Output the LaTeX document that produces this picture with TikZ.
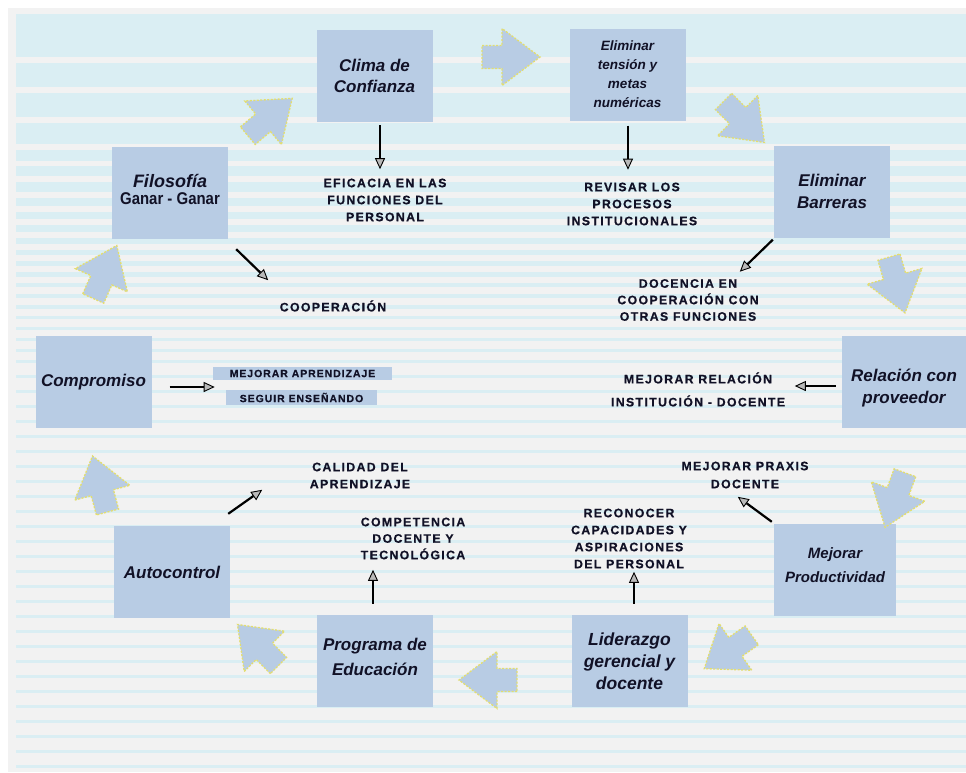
\documentclass[tikz,border=0pt]{standalone}
\usepackage{fontspec}
\usepackage{graphicx}
\setmainfont{Liberation Sans}
\newfontfamily\lblfont[LetterSpace=11,FakeBold=0.6]{Liberation Sans}
\newfontfamily\smlfont[LetterSpace=9,FakeBold=0.5]{Liberation Sans}
\usetikzlibrary{arrows.meta}
\definecolor{boxblue}{HTML}{B8CCE4}
\definecolor{band}{HTML}{DAEEF3}
\definecolor{framegray}{HTML}{F2F2F2}
\definecolor{ink}{HTML}{111126}
\definecolor{dashy}{HTML}{E4DE6E}
\tikzset{
  box/.style={fill=boxblue, minimum width=116pt, minimum height=92pt, inner sep=0pt,
    align=center, text=ink, font=\bfseries\itshape\fontsize{17}{21}\selectfont},
  lbl/.style={align=center, text=ink, inner sep=0pt,
    font=\lblfont\bfseries\fontsize{12.3}{17}\selectfont},
  hilite/.style={fill=boxblue, inner sep=0pt, text=ink,
    font=\smlfont\bfseries\fontsize{10.5}{12}\selectfont},
  conn/.style={line width=2.2pt, black,
    -{Triangle[length=11pt,width=10pt,fill=gray!55,line width=0.9pt]}},
  blockarr/.style={fill=boxblue, draw=dashy, line width=1.3pt, dash pattern=on 2pt off 1.5pt}
}
\newcommand\barrow[3]{%
  \draw[blockarr, shift={(#1,#2)}, rotate=#3]
    (-29,-11.5) -- (-9,-11.5) -- (-9,-28.5) -- (29,0) -- (-9,28.5) -- (-9,11.5) -- (-29,11.5) -- cycle;}
\begin{document}
\begin{tikzpicture}[x=1pt,y=-1pt]
\useasboundingbox (0,0) rectangle (966,772);
% background
\fill[white] (0,0) rectangle (966,772);
\fill[framegray] (8,8) rectangle (966,772);
\foreach \a/\b in {14/57,63/87,93/117,123/144,150/161,166/176,182/192,198/206,212/219,225/232,
  238/244,250/255,261/266,272/277,283/287,294/298,305/309,316/319,327/330,338/341,349/352,360/363}
  \fill[band] (16,\a) rectangle (966,\b);
\foreach \y in {375,390,...,765}
  \fill[band] (16,\y) rectangle (966,\y+2.5);

% boxes
\node[box] (clima) at (374.5,76) {Clima de\\Confianza};
\node[box, font=\bfseries\itshape\fontsize{13.5}{19}\selectfont] (tension) at (627.5,74.5) {Eliminar\\tensión y\\metas\\numéricas};
\node[box, font=\bfseries\itshape\fontsize{17}{22}\selectfont] (barreras) at (832,191.5) {Eliminar\\Barreras};
\node[box, minimum width=124pt, font=\bfseries\itshape\fontsize{17}{22}\selectfont] (relacion) at (904,381.5) {\rule{0pt}{25pt}Relación con\\proveedor};
\node[box, minimum width=122pt, font=\bfseries\itshape\fontsize{15}{24}\selectfont] (product) at (835,570) {Mejorar\\Productividad\\[-14pt]};
\node[box, font=\bfseries\itshape\fontsize{17.5}{22}\selectfont] (liderazgo) at (629.5,661) {Liderazgo\\gerencial y\\docente};
\node[box, font=\bfseries\itshape\fontsize{17}{25}\selectfont] (programa) at (375,661) {Programa de\\Educación\\[-17pt]};
\node[box] (autocontrol) at (172,572) {Autocontrol};
\node[box] (compromiso) at (93.5,382) {Compromiso};
\node[box, font=\bfseries\fontsize{18}{18}\selectfont] (filosofia) at (170,193)
  {\itshape Filosofía\\[-1pt]\scalebox{0.88}[1]{\fontsize{17}{17}\selectfont Ganar - Ganar}\\[-11pt]};

% block arrows
\barrow{270}{117}{40}
\barrow{511}{57}{0}
\barrow{744}{122}{-45}
\barrow{897}{285}{-74}
\barrow{895}{500}{-110}
\barrow{728}{652}{-145}
\barrow{488}{680}{180}
\barrow{258}{645}{135}
\barrow{100}{484}{105}
\barrow{105}{272}{66}

% labels
\node[lbl] (eficacia) at (385,200) {EFICACIA EN LAS\\FUNCIONES DEL\\PERSONAL};
\node[lbl] (revisar) at (632,204) {REVISAR LOS\\PROCESOS\\INSTITUCIONALES};
\node[lbl] (coop) at (333,306) {COOPERACIÓN};
\node[lbl, font=\lblfont\bfseries\fontsize{12.3}{16.5}\selectfont] (docencia) at (688,300) {DOCENCIA EN\\COOPERACIÓN CON\\OTRAS FUNCIONES};
\node[hilite, minimum width=179pt, minimum height=13pt] (mejapr) at (302.5,373.5) {MEJORAR APRENDIZAJE};
\node[hilite, minimum width=151pt, minimum height=15pt] (seguir) at (301.5,397.5) {SEGUIR ENSEÑANDO};
\node[lbl, font=\lblfont\bfseries\fontsize{12.3}{23}\selectfont] (mejrel) at (698,389.5) {MEJORAR RELACIÓN\\INSTITUCIÓN - DOCENTE};
\node[lbl] (calidad) at (360,475.5) {CALIDAD DEL\\APRENDIZAJE};
\node[lbl, font=\lblfont\bfseries\fontsize{12.3}{18}\selectfont] (praxis) at (745,475) {MEJORAR PRAXIS\\DOCENTE};
\node[lbl, font=\lblfont\bfseries\fontsize{12.3}{16.5}\selectfont] (competencia) at (413,538.5) {COMPETENCIA\\DOCENTE Y\\TECNOLÓGICA};
\node[lbl] (reconocer) at (629,538.5) {RECONOCER\\CAPACIDADES Y\\ASPIRACIONES\\DEL PERSONAL};

% connectors
\draw[conn] ([shift={(5.5,3)}]clima.south) -- ++(0,44);
\draw[conn] ([shift={(0.5,5)}]tension.south) -- ++(0,44);
\draw[conn] ([shift={(8,10)}]filosofia.south east) -- ++(32,31);
\draw[conn] ([shift={(-1,2)}]barreras.south west) -- ++(-33,32);
\draw[conn] ([shift={(18,5)}]compromiso.east) -- ++(45,0);
\draw[conn] ([shift={(-6,4.5)}]relacion.west) -- ++(-41,0);
\draw[conn] ([shift={(-2,-2)}]product.north west) -- ++(-34,-25);
\draw[conn] ([shift={(4.5,-11)}]liderazgo.north) -- ++(0,-32);
\draw[conn] ([shift={(-2,-11)}]programa.north) -- ++(0,-34);
\draw[conn] ([shift={(-2,-12)}]autocontrol.north east) -- ++(34,-24);
\end{tikzpicture}
\end{document}
